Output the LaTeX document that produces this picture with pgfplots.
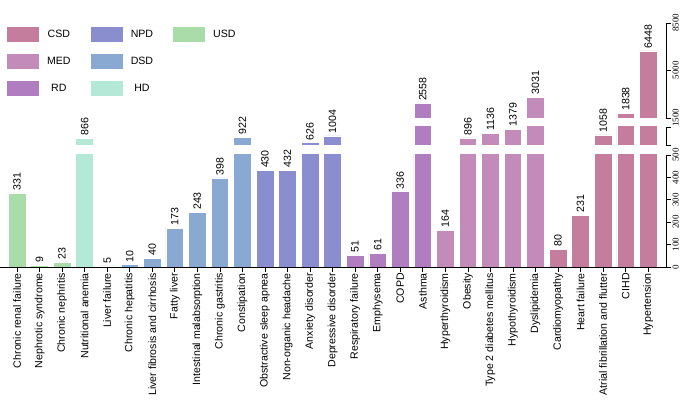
\documentclass[border=0pt]{standalone}
\usepackage{fontspec}
\setmainfont{Liberation Sans}
\newfontfamily\tickfont{Liberation Serif}
\usepackage{pgfplots}
\pgfplotsset{compat=1.18}

\definecolor{cCSD}{HTML}{C57D9D}
\definecolor{cMED}{HTML}{C28BB9}
\definecolor{cRD}{HTML}{B07EC0}
\definecolor{cNPD}{HTML}{8A8ECF}
\definecolor{cDSD}{HTML}{89A9D3}
\definecolor{cHD}{HTML}{B3E9D6}
\definecolor{cUSD}{HTML}{A9DCA9}

\pgfplotsset{
  mybar/.style={ybar, bar width=17.7bp, bar shift=0pt, draw=white, line width=0.6bp, fill=#1, forget plot},
  mylab/.style={draw=none, mark=none, forget plot, nodes near coords, point meta=explicit symbolic,
    nodes near coords style={rotate=90, anchor=west, inner xsep=2.5bp, inner ysep=0bp,
      font=\fontsize{10.6bp}{12bp}\selectfont, text=black}},
  seg/.style={
    scale only axis, width=666bp, xmin=-0.754, xmax=28.79,
    anchor=south west, clip mode=individual,
    axis y line*=right, tick align=outside, major tick length=4.5bp,
    yticklabel style={rotate=90, anchor=north, inner sep=2bp, font=\fontsize{9bp}{10bp}\tickfont},
    /pgf/number format/assume math mode=true,
    /pgf/number format/1000 sep={},
    tick style={black, line width=0.6bp},
    axis line style={black, line width=0.6bp},
  }
}

\begin{document}
\begin{tikzpicture}
\useasboundingbox (0bp,0bp) rectangle (695bp,407bp);

% bottom segment 0-500
\begin{axis}[seg, at={(0bp,140bp)}, height=112bp, ymin=0, ymax=500,
  ytick={0,100,200,300,400,500},
  axis x line*=bottom,
  xtick={0,...,28},
  xticklabels={Chronic renal failure, Nephrotic syndrome, Chronic nephritis, Nutritional anemia,
    Liver failure, Chronic hepatitis, Liver fibrosis and cirrhosis, Fatty liver,
    Intestinal malabsorption, Chronic gastritis, Constipation, Obstractive sleep apnea,
    Non-organic headache, Anxiety disorder, Depressive disorder, Respiratory failure,
    Emphysema, COPD, Asthma, Hyperthyroidism, Obesity, Type 2 diabetes mellitus,
    Hypothyroidism, Dyslipidemia, Cardiomyopathy, Heart failure,
    Atrial fibrillation and flutter, CIHD, Hypertension},
  xticklabel style={rotate=90, anchor=east, inner sep=1.5bp, font=\fontsize{10.6bp}{12bp}\selectfont},
]
\addplot[mybar=cUSD] coordinates {(0,331) (1,9) (2,23)};
\addplot[mybar=cHD] coordinates {(3,866)};
\addplot[mybar=cDSD] coordinates {(4,5) (5,10) (6,40) (7,173) (8,243) (9,398) (10,922)};
\addplot[mybar=cNPD] coordinates {(11,430) (12,432) (13,626) (14,1004)};
\addplot[mybar=cRD] coordinates {(15,51) (16,61) (17,336) (18,2558)};
\addplot[mybar=cMED] coordinates {(19,164) (20,896) (21,1136) (22,1379) (23,3031)};
\addplot[mybar=cCSD] coordinates {(24,80) (25,231) (26,1058) (27,1838) (28,6448)};
\addplot[mylab] coordinates {(0,331)[331] (1,9)[9] (2,23)[23] (4,5)[5] (5,10)[10] (6,40)[40]
  (7,173)[173] (8,243)[243] (9,398)[398] (11,430)[430] (12,432)[432] (15,51)[51] (16,61)[61]
  (17,336)[336] (19,164)[164] (24,80)[80] (25,231)[231]};
\end{axis}

% middle segment 500-1500
\begin{axis}[seg, at={(0bp,262bp)}, height=18bp, ymin=500, ymax=1500,
  ytick={500,1500}, yticklabels={,}, axis x line=none]
\addplot[mybar=cHD] coordinates {(3,866)};
\addplot[mybar=cDSD] coordinates {(10,922)};
\addplot[mybar=cNPD] coordinates {(13,626) (14,1004)};
\addplot[mybar=cRD] coordinates {(18,2558)};
\addplot[mybar=cMED] coordinates {(20,896) (21,1136) (22,1379) (23,3031)};
\addplot[mybar=cCSD] coordinates {(26,1058) (27,1838) (28,6448)};
\addplot[mylab] coordinates {(3,866)[866] (10,922)[922] (13,626)[626] (14,1004)[1004]
  (20,896)[896] (21,1136)[1136] (22,1379)[1379] (26,1058)[1058]};
\end{axis}

% top segment 1500-8500
\begin{axis}[seg, at={(0bp,289bp)}, height=95bp, ymin=1500, ymax=8500,
  ytick={1500,5000,8500}, axis x line=none,
  legend columns=3,
  legend cell align=center,
  legend image code/.code={\fill[#1, draw=white, line width=0.6bp] (0bp,-8bp) rectangle (33bp,8bp);},
  legend style={draw=none, fill=none, inner sep=0pt, outer sep=0pt,
    at={(0.009,0.968)}, anchor=north west,
    font=\fontsize{10.6bp}{12bp}\selectfont,
    row sep=10.5bp,
    nodes={inner sep=0pt},
    /tikz/every odd column/.append style={column sep=7.5bp},
    /tikz/every even column/.append style={column sep=19bp}},
]
\addplot[mybar=cRD] coordinates {(18,2558)};
\addplot[mybar=cMED] coordinates {(23,3031)};
\addplot[mybar=cCSD] coordinates {(27,1838) (28,6448)};
\addplot[mylab] coordinates {(18,2558)[2558] (23,3031)[3031] (27,1838)[1838] (28,6448)[6448]};
\addlegendimage{fill=cCSD}\addlegendentry{CSD}
\addlegendimage{fill=cNPD}\addlegendentry{NPD}
\addlegendimage{fill=cUSD}\addlegendentry{USD}
\addlegendimage{fill=cMED}\addlegendentry{MED}
\addlegendimage{fill=cDSD}\addlegendentry{DSD}
\addlegendimage{empty legend}\addlegendentry{\phantom{D}}
\addlegendimage{fill=cRD}\addlegendentry{RD}
\addlegendimage{fill=cHD}\addlegendentry{HD}
\end{axis}
\end{tikzpicture}
\end{document}
